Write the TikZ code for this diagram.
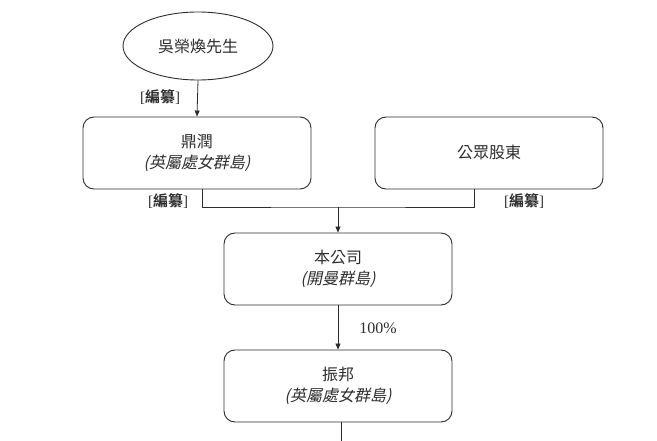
\documentclass[tikz,border=0pt]{standalone}
\usepackage{fontspec}
\setmainfont{Liberation Serif}
\newfontfamily\cjk{Noto Sans CJK TC}[BoldFont={Noto Sans CJK TC Bold}]
\newfontfamily\cjkit{Noto Sans CJK TC}[FakeSlant=0.22]
\usetikzlibrary{arrows.meta,shapes.geometric,positioning}
\definecolor{inkgray}{RGB}{45,45,45}
\tikzset{
    % entity boxes
    entity/.style={
        draw=inkgray, rounded corners=11pt, line width=0.9pt,
        minimum width=228pt, minimum height=72pt,
        align=center, font=\cjk\fontsize{16}{21}\selectfont, text=inkgray
    },
    person/.style={
        ellipse, draw=inkgray, line width=0.9pt,
        minimum width=150pt, minimum height=68pt,
        font=\cjk\fontsize{16}{18}\selectfont, text=inkgray
    },
    % connectors
    link/.style={draw=inkgray, line width=0.8pt},
    linkarrow/.style={link, -{Triangle[length=6pt,width=5pt]}},
    % labels
    redact/.style={font=\fontsize{15}{17}\selectfont, text=inkgray},
    share/.style={font=\fontsize{16}{18}\selectfont, text=inkgray},
}
\newcommand{\redacted}{[{\cjk\bfseries 編纂}]}

\begin{document}
\begin{tikzpicture}[x=1pt,y=-1pt]
  \useasboundingbox (0,0) rectangle (657,441);

  % shareholders
  \node[person] (wu) at (198,46) {吳榮煥先生};
  \node[entity] (dr) at (197,153) {鼎潤\\{\cjkit (英屬處女群島)}};
  \node[entity] (gz) at (489,153) {公眾股東};

  % group
  \node[entity] (bgs) at (338,269) {本公司\\{\cjkit (開曼群島)}};
  \node[entity] (zb) at (338,386) {振邦\\{\cjkit (英屬處女群島)}};

  % connectors
  \coordinate (j) at (338,207);
  \draw[linkarrow] (wu.south) -- (dr.north);
  \draw[link] ([xshift=5pt]dr.south) |- (j) -| ([xshift=-15pt]gz.south);
  \draw[linkarrow] (j) -- (bgs.north);
  \draw[linkarrow] (bgs.south) -- (zb.north);
  \coordinate (tail) at (341,441);
  \draw[link] (zb.south -| tail) -- (tail);

  % labels
  \node[redact] (r1) at (160,97) {\redacted};
  \node[redact] (r2) at (168,201) {\redacted};
  \node[redact] (r3) at (524,201) {\redacted};
  \node[share] (pct) at (378,328) {100\%};
\end{tikzpicture}
\end{document}
